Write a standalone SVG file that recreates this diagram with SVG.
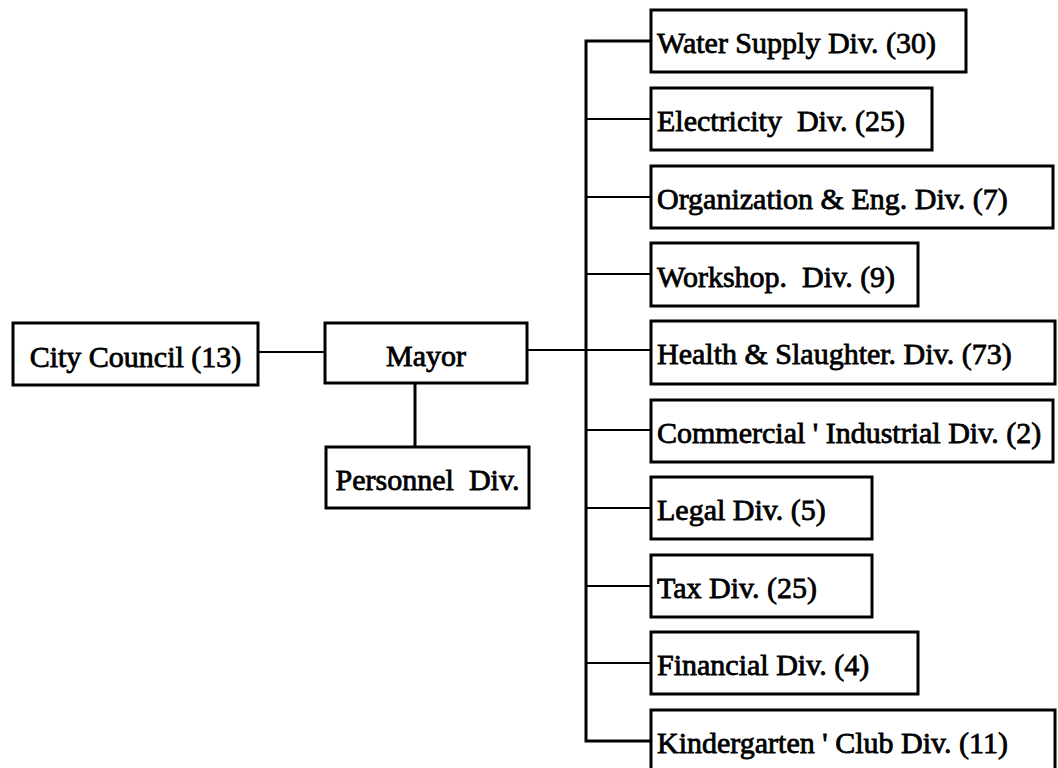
<svg xmlns="http://www.w3.org/2000/svg" width="1058" height="768" viewBox="0 0 1058 768">
<style>
.box{fill:#fff;stroke:#000;stroke-width:3}
.lbl{font-family:"Liberation Serif","Times New Roman",serif;font-size:30px;fill:#000;stroke:#000;stroke-width:0.8}
.mid{text-anchor:middle}
.con{fill:none;stroke:#000;stroke-width:2.2}
.bus{fill:none;stroke:#000;stroke-width:3}
</style>
<rect width="1058" height="768" fill="#fff"/>
<g id="connectors">
<line class="con" x1="258" y1="352" x2="325" y2="352"/>
<line class="con" x1="527" y1="350" x2="651" y2="350"/>
<line class="bus" x1="415" y1="383" x2="415" y2="447"/>
<path class="bus" d="M651 41 H586 V741 H651"/>
<line class="con" x1="586" y1="119" x2="651" y2="119"/>
<line class="con" x1="586" y1="197" x2="651" y2="197"/>
<line class="con" x1="586" y1="274" x2="651" y2="274"/>
<line class="con" x1="586" y1="430" x2="651" y2="430"/>
<line class="con" x1="586" y1="508" x2="651" y2="508"/>
<line class="con" x1="586" y1="586" x2="651" y2="586"/>
<line class="con" x1="586" y1="663" x2="651" y2="663"/>
</g>
<g id="city-council"><rect class="box" x="13" y="323" width="245" height="62"/><text class="lbl mid" x="135.5" y="367">City Council (13)</text></g>
<g id="mayor"><rect class="box" x="325" y="323" width="202" height="60"/><text class="lbl mid" x="426" y="366">Mayor</text></g>
<g id="personnel"><rect class="box" x="326" y="447" width="203" height="61"/><text class="lbl mid" x="427.5" y="490" xml:space="preserve">Personnel  Div.</text></g>
<g id="water"><rect class="box" x="651" y="10" width="315" height="62"/><text class="lbl" x="657" y="53">Water Supply Div. (30)</text></g>
<g id="electricity"><rect class="box" x="651" y="88" width="281" height="62"/><text class="lbl" x="657" y="131" xml:space="preserve">Electricity  Div. (25)</text></g>
<g id="organization"><rect class="box" x="651" y="166" width="402" height="62"/><text class="lbl" x="657" y="209" xml:space="preserve">Organization &amp; Eng. Div. (7)</text></g>
<g id="workshop"><rect class="box" x="651" y="243" width="267" height="63"/><text class="lbl" x="657" y="287" xml:space="preserve">Workshop.  Div. (9)</text></g>
<g id="health"><rect class="box" x="651" y="321" width="404" height="63"/><text class="lbl" x="657" y="364">Health &amp; Slaughter. Div. (73)</text></g>
<g id="commercial"><rect class="box" x="651" y="400" width="402" height="62"/><text class="lbl" x="657" y="443">Commercial ' Industrial Div. (2)</text></g>
<g id="legal"><rect class="box" x="651" y="477" width="221" height="62"/><text class="lbl" x="657" y="520">Legal Div. (5)</text></g>
<g id="tax"><rect class="box" x="651" y="555" width="221" height="62"/><text class="lbl" x="657" y="598">Tax Div. (25)</text></g>
<g id="financial"><rect class="box" x="651" y="632" width="267" height="62"/><text class="lbl" x="657" y="675">Financial Div. (4)</text></g>
<g id="kindergarten"><rect class="box" x="651" y="710" width="404" height="62"/><text class="lbl" x="657" y="753">Kindergarten ' Club Div. (11)</text></g>
</svg>
